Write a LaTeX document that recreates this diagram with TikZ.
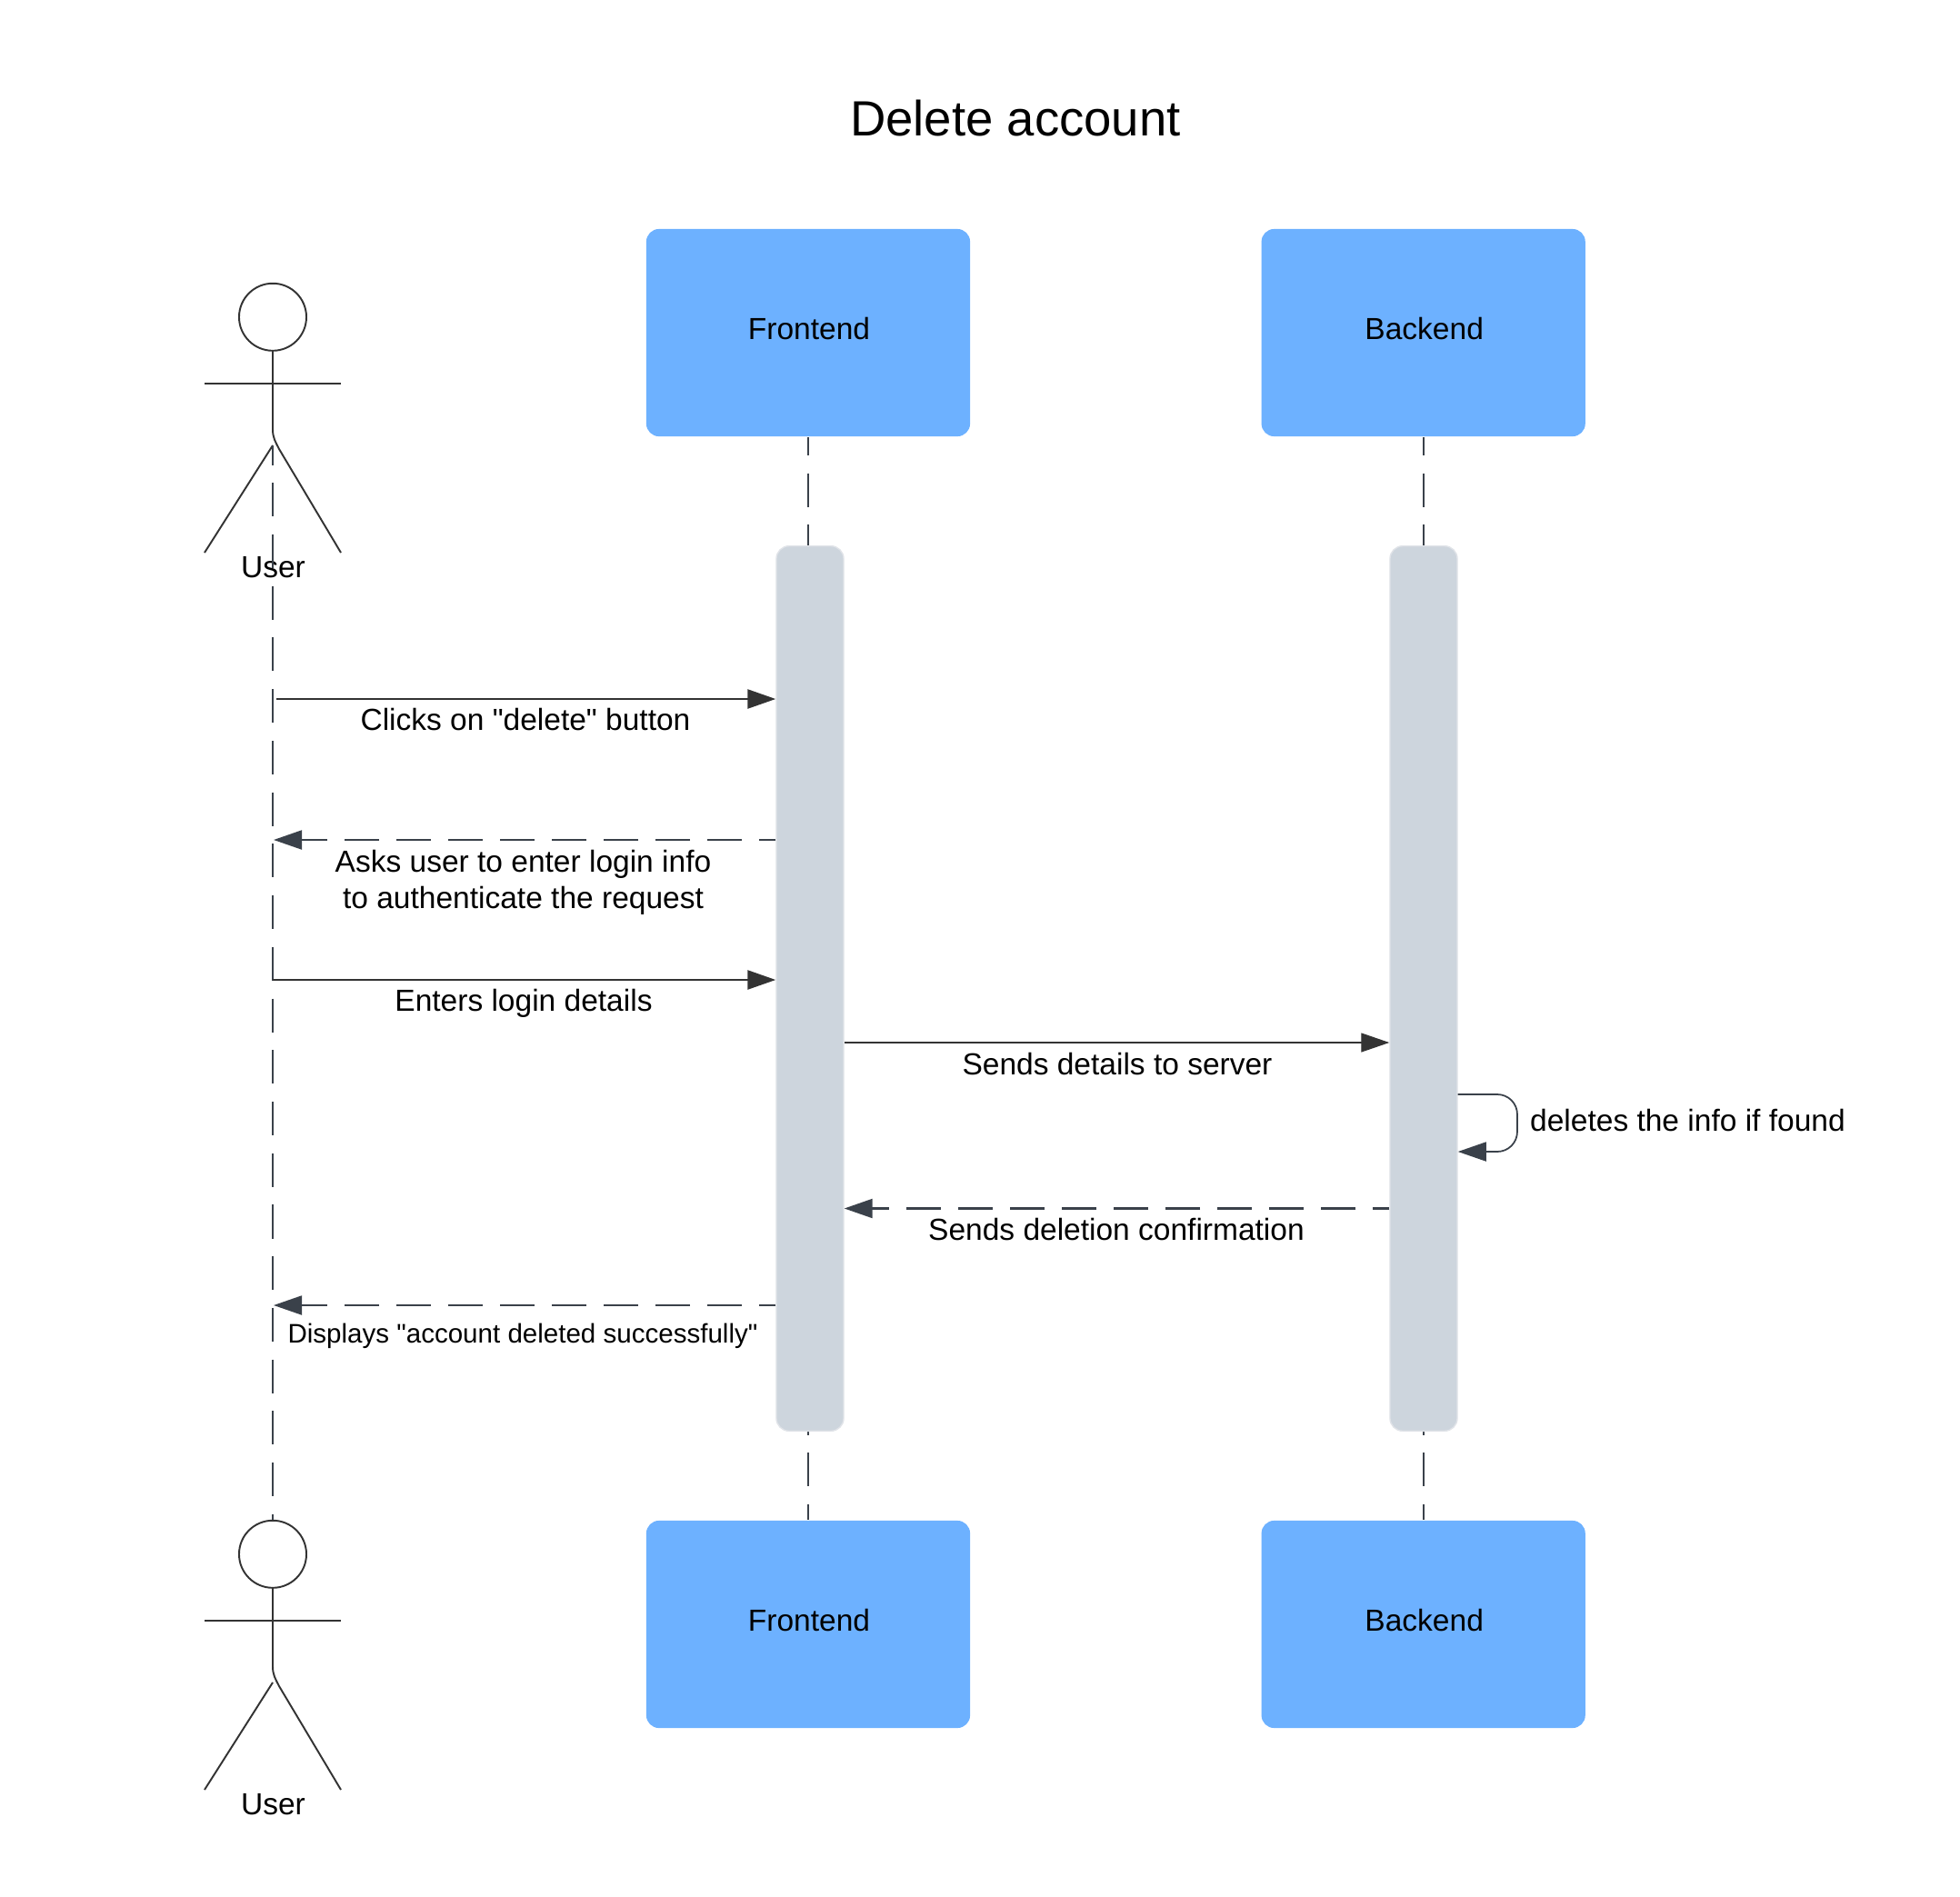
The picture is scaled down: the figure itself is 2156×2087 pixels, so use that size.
\documentclass[tikz,border=0pt]{standalone}
\usepackage{fontspec}
\setmainfont[Ligatures=TeXOff]{Liberation Sans}
\usetikzlibrary{arrows.meta}
\definecolor{boxblue}{HTML}{6DB1FF}
\definecolor{barfill}{HTML}{CDD5DD}
\definecolor{barline}{HTML}{E0E3E8}
\definecolor{darkmsg}{HTML}{333333}
\definecolor{slatemsg}{HTML}{3A414A}
\tikzset{
  partbox/.style={fill=boxblue,rounded corners=0.14cm,minimum width=3.56cm,minimum height=2.28cm},
  partlabel/.style={font=\fontsize{9.53}{11.4}\selectfont,inner sep=0pt,align=center},
  smalllabel/.style={font=\fontsize{8.4}{10}\selectfont,inner sep=0pt},
  activebar/.style={fill=barfill,draw=barline,line width=0.4pt,rounded corners=0.14cm,minimum width=0.74cm,minimum height=9.73cm},
  lifeline/.style={line width=0.55pt,draw=slatemsg,dash pattern=on 0.37cm off 0.197cm},
  stickman/.style={line width=0.55pt,draw=darkmsg},
  sendmsg/.style={line width=0.7pt,draw=darkmsg,-{Triangle[length=0.31cm,width=0.21cm]}},
  replymsg/.style={line width=0.55pt,draw=slatemsg,dash pattern=on 0.38cm off 0.19cm,-{Triangle[length=0.31cm,width=0.21cm]}}
}
\begin{document}
\begin{tikzpicture}[x=0.01cm,y=-0.01cm]
  \useasboundingbox (0,0) rectangle (2156,2087);
  \node[inner sep=0pt,font=\fontsize{15.5}{19}\selectfont] (title) at (1117,130) {Delete account};

  % participants
  \foreach \nam/\x/\barx/\txt in {front/889/891/Frontend,back/1565.7/1566/Backend} {
    \node[partbox] (\nam top) at (\x,366) {};
    \node[partbox] (\nam bot) at (\x,1787) {};
    \node[partlabel] (\nam toplabel) at (\x+1,362) {\txt};
    \node[partlabel] (\nam botlabel) at (\x+1,1782.5) {\txt};
    \draw[lifeline,dash phase=0.17cm] (\nam top.south) -- (\nam bot.north);
    \node[activebar] (\nam bar) at (\barx,1087.5) {};
  }

  % actors
  \foreach \nam/\dy in {top/0,bot/1361} {
    \node[draw=darkmsg,line width=0.55pt,circle,inner sep=0pt,minimum size=0.74cm] (head\nam) at (300,348.8+\dy) {};
    \coordinate (hip\nam) at (300,490+\dy);
    \coordinate (armleft\nam) at (225,422+\dy);
    \coordinate (armright\nam) at (375,422+\dy);
    \coordinate (footleft\nam) at (225,608+\dy);
    \coordinate (footright\nam) at (375,608+\dy);
    \draw[stickman] (armleft\nam) -- (armright\nam);
    \draw[stickman] (head\nam.south) -- (300,472+\dy) .. controls (300,482+\dy) and (303,486+\dy) .. (307,494+\dy) -- (footright\nam);
    \draw[stickman] (hip\nam) -- (footleft\nam);
    \node[partlabel] (user\nam) at (300.5,624+\dy) {User};
  }
  \draw[lifeline,dash phase=0.155cm] (hiptop) -- (headbot.north);

  % messages
  \coordinate (clickstart) at (304,769);
  \coordinate (clickend) at (frontbar.west |- clickstart);
  \draw[sendmsg] (clickstart) -- (clickend);
  \node[partlabel] (clicktxt) at (578,792) {Clicks on "delete" button};

  \coordinate (askstart) at (frontbar.west |- 0,924);
  \coordinate (askend) at (301,924);
  \draw[replymsg,dash phase=0.2cm] (askstart) -- (askend);
  \node[partlabel] (asktxt) at (575.5,971) {Asks user to enter login info\\to authenticate the request};

  \coordinate (loginstart) at (300,1078);
  \coordinate (loginend) at (frontbar.west |- loginstart);
  \draw[sendmsg] (loginstart) -- (loginend);
  \node[partlabel] (logintxt) at (576,1103.5) {Enters login details};

  \coordinate (sendstart) at (frontbar.east |- 0,1147);
  \coordinate (sendend) at (backbar.west |- sendstart);
  \draw[sendmsg,line width=0.35pt] (sendstart) -- (sendend);
  \node[partlabel] (sendtxt) at (1229,1171) {Sends details to server};

  \coordinate (selfstart) at (backbar.east |- 0,1204);
  \coordinate (selfend) at (backbar.east |- 0,1267);
  \draw[sendmsg,draw=slatemsg,line width=0.5pt,rounded corners=0.22cm] (selfstart) -- (1669,1204) -- (1669,1267) -- (selfend);
  \node[partlabel,anchor=west] (selftxt) at (1682.5,1233) {deletes the info if found};

  \coordinate (confstart) at (backbar.west |- 0,1329.5);
  \coordinate (confend) at (frontbar.east |- confstart);
  \draw[replymsg,dash phase=0.2cm,line width=0.6pt] (confstart) -- (confend);
  \node[partlabel] (conftxt) at (1228,1353) {Sends deletion confirmation};

  \coordinate (donestart) at (frontbar.west |- 0,1436);
  \coordinate (doneend) at (301,1436);
  \draw[replymsg,dash phase=0.2cm] (donestart) -- (doneend);
  \node[smalllabel] (donetxt) at (575,1469.5) {Displays "account deleted successfully"};
\end{tikzpicture}
\end{document}
